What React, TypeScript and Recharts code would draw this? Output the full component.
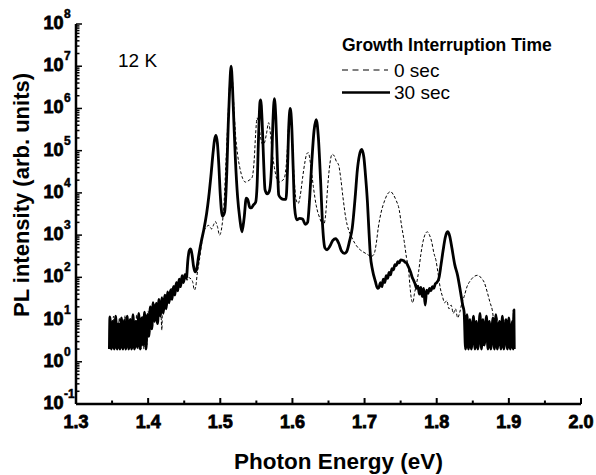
import { LineChart, Line, XAxis, YAxis, Legend } from 'recharts';

const FONT = '"Liberation Sans", Arial, Helvetica, sans-serif';

// axis ticks
const energyMajor = [1.3, 1.4, 1.5, 1.6, 1.7, 1.8, 1.9, 2.0];
const energyTicks = [1.3, 1.35, 1.4, 1.45, 1.5, 1.55, 1.6, 1.65, 1.7, 1.75, 1.8, 1.85, 1.9, 1.95, 2.0];
const intensityMajor = [1e-1, 1e0, 1e1, 1e2, 1e3, 1e4, 1e5, 1e6, 1e7, 1e8];
const logMinorSteps = [2, 3, 4, 5, 6, 7, 8, 9];
const intensityTicks = intensityMajor.flatMap((d) => (d < 1e8 ? [d, ...logMinorSteps.map((m) => m * d)] : [d]));

const legendTitle = 'Growth Interruption Time';
const tempLabel = '12 K';

// [photon energy (eV), PL intensity (arb. units)] -- 0 sec interruption (dashed)
const lowEdge0: [number, number][] = [
  [1.3463, 2], [1.348, 10], [1.35, 2], [1.352, 12], [1.354, 2], [1.356, 8.5], [1.358, 2], [1.36, 11],
  [1.362, 2], [1.364, 10], [1.366, 2], [1.368, 12.5], [1.37, 2], [1.372, 9], [1.374, 2], [1.376, 11],
  [1.378, 2], [1.38, 10], [1.382, 2], [1.384, 13], [1.386, 2], [1.388, 10], [1.39, 2], [1.392, 12],
  [1.394, 2], [1.396, 11], [1.398, 2.5], [1.4, 16], [1.402, 5], [1.404, 20], [1.406, 7], [1.408, 24],
  [1.41, 10], [1.412, 26], [1.414, 11], [1.416, 30], [1.418, 12], [1.419, 5.6], [1.42, 28], [1.422, 16],
  [1.424, 40], [1.426, 22], [1.428, 45], [1.43, 28], [1.432, 55], [1.434, 35], [1.436, 65], [1.438, 45],
  [1.44, 80], [1.442, 55], [1.444, 95], [1.446, 70], [1.448, 100], [1.45, 80], [1.452, 105], [1.454, 85],
  [1.456, 100], [1.458, 95], [1.46, 90], [1.462, 75], [1.464, 50], [1.466, 60], [1.468, 120],
];
const peaks0: [number, number][] = [
  [1.471, 250], [1.474, 600], [1.477, 1200], [1.48, 1500], [1.484, 1700], [1.488, 1400], [1.491, 1800],
  [1.493, 2100], [1.496, 1600], [1.499, 1000], [1.502, 1500], [1.505, 5000], [1.508, 60000], [1.511, 800000],
  [1.513, 4000000], [1.515, 10000000], [1.517, 4500000], [1.519, 1000000], [1.521, 260000], [1.524, 80000],
  [1.527, 40000], [1.531, 22000], [1.535, 18000], [1.54, 20000], [1.544, 23000], [1.547, 60000],
  [1.549, 250000], [1.551, 600000], [1.553, 450000], [1.556, 200000], [1.559, 140000], [1.561, 150000],
  [1.564, 250000], [1.567, 460000], [1.569, 300000], [1.572, 90000], [1.575, 40000], [1.578, 22000],
  [1.581, 18000], [1.585, 19000], [1.589, 23000], [1.592, 60000], [1.595, 500000], [1.597, 1000000],
  [1.599, 420000], [1.602, 30000], [1.605, 7000], [1.608, 5600], [1.611, 9000], [1.614, 22000],
  [1.617, 50000], [1.62, 85000], [1.622, 90000], [1.625, 50000], [1.629, 14000], [1.633, 5000],
  [1.638, 2500], [1.643, 1700], [1.646, 3000], [1.649, 15000], [1.652, 50000], [1.655, 82000],
  [1.658, 75000], [1.661, 55000], [1.664, 46000], [1.667, 22000], [1.67, 8000], [1.674, 2500],
  [1.678, 1300], [1.682, 900], [1.687, 620], [1.692, 480], [1.698, 400], [1.704, 350], [1.709, 310],
  [1.713, 350], [1.716, 600], [1.719, 1500], [1.723, 3500], [1.727, 6000], [1.732, 9500], [1.736, 10700],
  [1.74, 9000], [1.744, 6500], [1.748, 4000], [1.751, 1800], [1.755, 700], [1.758, 300], [1.761, 150],
  [1.763, 60], [1.765, 30], [1.767, 25], [1.769, 40], [1.772, 70], [1.775, 140], [1.778, 350],
  [1.781, 700], [1.784, 1050], [1.787, 1200], [1.79, 1000], [1.793, 700], [1.796, 380], [1.799, 250],
  [1.802, 120], [1.805, 55], [1.808, 35], [1.811, 25], [1.814, 28], [1.817, 18], [1.82, 22], [1.823, 14],
  [1.826, 18], [1.829, 11], [1.832, 15], [1.835, 25], [1.838, 35], [1.842, 60], [1.847, 85], [1.852, 105],
  [1.857, 112], [1.862, 95], [1.866, 75], [1.87, 45], [1.874, 25],
];
const tail0: [number, number][] = [
  [1.877, 17], [1.88, 8], [1.883, 12], [1.886, 4], [1.889, 9], [1.892, 3], [1.895, 10], [1.898, 2],
  [1.901, 8], [1.904, 2.5], [1.906, 11], [1.907, 2],
];

// 30 sec interruption (solid)
const lowEdge30: [number, number][] = [
  [1.3463, 2], [1.347, 11.5], [1.349, 2], [1.351, 9], [1.353, 2], [1.355, 12], [1.357, 2], [1.359, 8],
  [1.361, 2], [1.363, 11], [1.365, 2], [1.367, 9.5], [1.369, 2], [1.371, 12], [1.373, 2], [1.375, 10],
  [1.377, 2], [1.379, 13], [1.381, 2], [1.383, 9], [1.385, 2.2], [1.387, 14], [1.389, 2], [1.391, 11],
  [1.393, 2.5], [1.395, 15], [1.397, 2], [1.399, 13], [1.401, 4], [1.403, 20], [1.405, 6], [1.407, 25],
  [1.409, 9], [1.411, 24], [1.413, 8], [1.415, 30], [1.417, 12], [1.419, 33], [1.421, 14], [1.423, 38],
  [1.425, 18], [1.427, 45], [1.429, 25], [1.431, 50], [1.433, 30], [1.435, 60], [1.437, 38], [1.439, 75],
  [1.441, 48], [1.443, 90], [1.445, 60], [1.447, 110], [1.449, 75], [1.451, 115], [1.453, 95],
];
const peaks30: [number, number][] = [
  [1.455, 250], [1.457, 430], [1.459, 470], [1.461, 330], [1.463, 180], [1.465, 135], [1.467, 150],
  [1.47, 320], [1.474, 750], [1.477, 1300], [1.481, 3200], [1.484, 8000], [1.487, 25000], [1.49, 90000],
  [1.492, 180000], [1.494, 230000], [1.496, 150000], [1.498, 45000], [1.5, 9000], [1.503, 2800],
  [1.506, 3500], [1.509, 30000], [1.511, 400000], [1.513, 3000000], [1.515, 10000000], [1.517, 3000000],
  [1.519, 400000], [1.521, 60000], [1.524, 8000], [1.527, 2500], [1.53, 1200], [1.533, 2500],
  [1.536, 7500], [1.538, 7000], [1.541, 4500], [1.543, 4400], [1.546, 5200], [1.549, 6000], [1.551, 15000],
  [1.553, 200000], [1.555, 1400000], [1.556, 1600000], [1.558, 500000], [1.56, 60000], [1.562, 12000],
  [1.565, 9500], [1.568, 11000], [1.571, 40000], [1.573, 500000], [1.575, 1700000], [1.577, 600000],
  [1.579, 60000], [1.581, 9000], [1.584, 7500], [1.588, 7000], [1.591, 7000], [1.593, 30000],
  [1.595, 400000], [1.597, 1000000], [1.599, 400000], [1.601, 40000], [1.603, 4500], [1.606, 2300],
  [1.61, 2500], [1.614, 2400], [1.618, 1800], [1.621, 2000], [1.624, 8000], [1.627, 60000],
  [1.63, 300000], [1.633, 540000], [1.636, 200000], [1.639, 20000], [1.642, 1500], [1.645, 500],
  [1.648, 450], [1.652, 550], [1.656, 750], [1.66, 820], [1.664, 650], [1.668, 420], [1.672, 370],
  [1.675, 400], [1.679, 700], [1.683, 1500], [1.687, 8000], [1.69, 35000], [1.693, 80000], [1.696, 107000],
  [1.699, 70000], [1.701, 30000], [1.704, 6000], [1.706, 1300], [1.708, 340], [1.711, 150], [1.715, 80],
  [1.718, 55], [1.72, 58], [1.722, 75], [1.724, 60], [1.726, 90], [1.728, 75], [1.73, 110], [1.732, 95],
  [1.734, 130], [1.736, 115], [1.738, 160], [1.74, 150], [1.742, 200], [1.744, 190], [1.746, 235],
  [1.748, 220], [1.75, 260], [1.752, 255], [1.754, 250], [1.756, 230], [1.758, 220], [1.76, 190],
  [1.762, 160], [1.764, 130], [1.766, 100], [1.768, 85], [1.77, 70], [1.772, 55], [1.774, 62], [1.776, 40],
  [1.778, 58], [1.78, 35], [1.782, 55], [1.784, 22], [1.786, 50], [1.788, 42], [1.79, 55], [1.792, 48],
  [1.794, 60], [1.796, 55], [1.798, 70], [1.8, 75], [1.803, 95], [1.806, 200], [1.809, 450], [1.812, 900],
  [1.815, 1200], [1.818, 950], [1.821, 500], [1.825, 200], [1.829, 110], [1.833, 45], [1.836, 22],
];
const tail30: [number, number][] = [
  [1.838, 15], [1.84, 2], [1.842, 13], [1.844, 2], [1.846, 10], [1.848, 2], [1.851, 12], [1.853, 2],
  [1.855, 9], [1.857, 2], [1.86, 14], [1.862, 2], [1.864, 10], [1.866, 2.5], [1.869, 12], [1.871, 2],
  [1.873, 9], [1.875, 2], [1.878, 11], [1.88, 2], [1.882, 13], [1.884, 2], [1.887, 9], [1.889, 2],
  [1.891, 12], [1.893, 2], [1.896, 10], [1.898, 2], [1.9, 11], [1.902, 2], [1.905, 9], [1.906, 2],
  [1.907, 17], [1.9075, 2],
];

const toPoints = (rows: [number, number][]) => rows.map(([e, i]) => ({ e, i }));
const spectrum0 = toPoints([...lowEdge0, ...peaks0, ...tail0]);
const spectrum30 = toPoints([...lowEdge30, ...peaks30, ...tail30]);

const seriesStyle: Record<string, { width: number; dash?: string }> = {
  '0 sec': { width: 1, dash: '3 2' },
  '30 sec': { width: 2.8 },
};

const boldText = { fontFamily: FONT, fontWeight: 700 };

const BottomTick = ({ x, y, payload }: any) => {
  const v = payload.value;
  const major = energyMajor.includes(v);
  return (
    <g>
      <line x1={x} x2={x} y1={y} y2={y - (major ? 6 : 3.5)} stroke="#000" strokeWidth={2} />
      {major && (
        <text x={x} y={y + 24} textAnchor="middle" style={boldText} fontSize={18} fill="#000" stroke="#000" strokeWidth={0.8}>
          {v.toFixed(1)}
        </text>
      )}
    </g>
  );
};

const TopTick = ({ x, y }: any) => <line x1={x} x2={x} y1={y} y2={y + 4} stroke="#000" strokeWidth={1.5} />;

const LeftTick = ({ x, y, payload }: any) => {
  const v = payload.value;
  const major = intensityMajor.includes(v);
  return (
    <g>
      <line x1={x} x2={x + (major ? 6 : 3.5)} y1={y} y2={y} stroke="#000" strokeWidth={1.5} />
      {major && (
        <g fill="#000" stroke="#000">
          <text x={x - 12.5} y={y + 5} textAnchor="end" style={boldText} fontSize={18} strokeWidth={0.8}>10</text>
          <text x={x - 12} y={y - 6} style={boldText} fontSize={12} strokeWidth={0.5}>{Math.round(Math.log10(v))}</text>
        </g>
      )}
    </g>
  );
};

const RightTick = ({ x, y, payload }: any) => {
  const major = intensityMajor.includes(payload.value);
  return <line x1={x} x2={x - (major ? 4 : 2.5)} y1={y} y2={y} stroke="#000" strokeWidth={1} />;
};

const XTitle = ({ viewBox }: any) => {
  const vb = viewBox ?? { x: 76, y: 404, width: 505, height: 71 };
  return (
    <text x={vb.x + vb.width / 2 + 10} y={vb.y + 65} textAnchor="middle" style={boldText} fontSize={22.5} fill="#000">
      Photon Energy (eV)
    </text>
  );
};

const YTitle = ({ viewBox }: any) => {
  const vb = viewBox ?? { x: 0, y: 24, width: 76, height: 380 };
  const cx = vb.x + 29;
  const cy = vb.y + vb.height / 2 - 19;
  return (
    <text x={cx} y={cy} transform={`rotate(-90, ${cx}, ${cy})`} textAnchor="middle" style={boldText} fontSize={22} fill="#000">
      PL intensity (arb. units)
    </text>
  );
};

const renderLegend = (props: any) => {
  const items = props.payload ?? [];
  return (
    <svg width={240} height={72} style={{ display: 'block' }}>
      <text x={2} y={19} style={boldText} fontSize={17.5} fill="#000">{legendTitle}</text>
      {items.map((item: any, idx: number) => {
        const cy = 38 + idx * 22.5;
        const dashed = !!seriesStyle[item.value]?.dash;
        return (
          <g key={item.value}>
            <line x1={2} x2={dashed ? 48 : 50} y1={cy} y2={cy} stroke="#000" strokeWidth={dashed ? 1.2 : 2.4} strokeDasharray={dashed ? '6 4.5' : undefined} />
            <text x={54} y={cy + 6.5} fontFamily={FONT} fontSize={19} fill="#000">{item.value}</text>
          </g>
        );
      })}
    </svg>
  );
};

export default function App() {
  return (
    <div style={{ position: 'absolute', left: 0, top: 0, width: 596, height: 475, background: '#fff' }}>
      <LineChart width={596} height={475} margin={{ top: 24, right: 15, bottom: 0, left: 0 }}>
        <XAxis
          xAxisId="b"
          dataKey="e"
          type="number"
          domain={[1.3, 2.0]}
          allowDataOverflow
          ticks={energyTicks}
          interval={0}
          tick={<BottomTick />}
          tickLine={false}
          tickSize={0}
          tickMargin={0}
          height={71}
          axisLine={{ stroke: '#000', strokeWidth: 2.5 }}
          label={<XTitle />}
        />
        <XAxis
          xAxisId="t"
          orientation="top"
          dataKey="e"
          type="number"
          domain={[1.3, 2.0]}
          allowDataOverflow
          ticks={energyTicks}
          interval={0}
          tick={<TopTick />}
          tickLine={false}
          tickSize={0}
          tickMargin={0}
          height={0}
          axisLine={{ stroke: '#000', strokeWidth: 2 }}
        />
        <YAxis
          yAxisId="l"
          type="number"
          scale="log"
          domain={[0.1, 1e8]}
          allowDataOverflow
          ticks={intensityTicks}
          interval={0}
          tick={<LeftTick />}
          tickLine={false}
          tickSize={0}
          tickMargin={0}
          width={76}
          axisLine={{ stroke: '#000', strokeWidth: 2.5 }}
          label={<YTitle />}
        />
        <YAxis
          yAxisId="r"
          orientation="right"
          type="number"
          scale="log"
          domain={[0.1, 1e8]}
          allowDataOverflow
          ticks={intensityTicks}
          interval={0}
          tick={<RightTick />}
          tickLine={false}
          tickSize={0}
          tickMargin={0}
          width={0}
          axisLine={{ stroke: '#000', strokeWidth: 2 }}
        />
        <Legend
          layout="vertical"
          align="center"
          verticalAlign="middle"
          content={renderLegend}
          wrapperStyle={{ top: 32, left: 340, width: 240, height: 72 }}
        />
        <Line
          xAxisId="b"
          yAxisId="l"
          name="0 sec"
          data={spectrum0}
          dataKey="i"
          type="monotone"
          stroke="#000"
          strokeWidth={seriesStyle['0 sec'].width}
          strokeDasharray={seriesStyle['0 sec'].dash}
          dot={false}
          isAnimationActive={false}
        />
        <Line
          xAxisId="b"
          yAxisId="l"
          name="30 sec"
          data={spectrum30}
          dataKey="i"
          type="monotone"
          stroke="#000"
          strokeWidth={seriesStyle['30 sec'].width}
          strokeLinejoin="round"
          dot={false}
          isAnimationActive={false}
        />
      </LineChart>
      <svg width={596} height={475} style={{ position: 'absolute', left: 0, top: 0, pointerEvents: 'none' }}>
        <text x={118} y={67} fontFamily={FONT} fontSize={19} fill="#000">{tempLabel}</text>
      </svg>
    </div>
  );
}
